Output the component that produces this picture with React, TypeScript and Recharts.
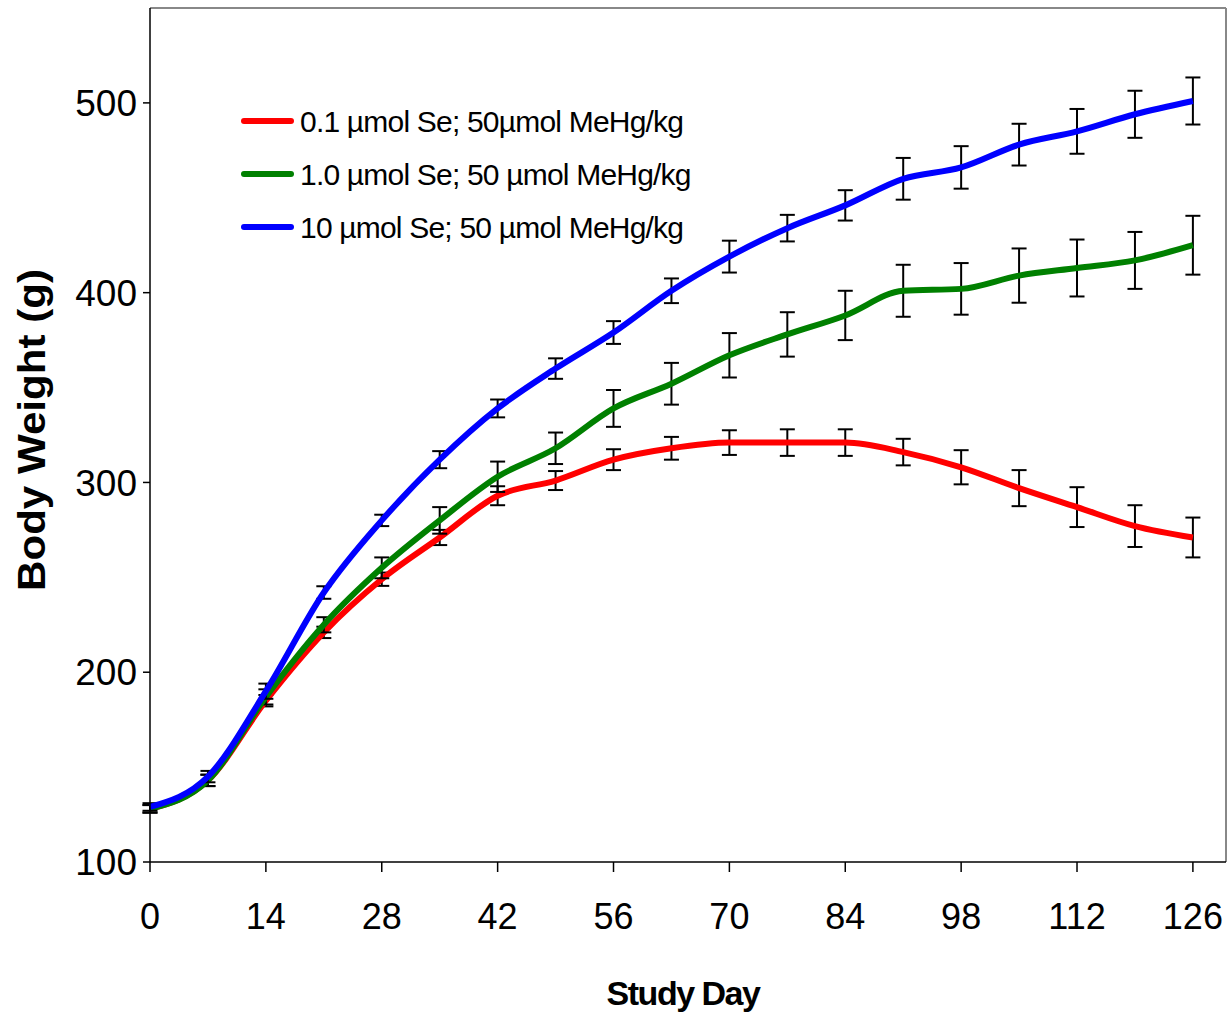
import React from 'react';
import { LineChart, Line, XAxis, YAxis, ErrorBar, ReferenceLine } from 'recharts';

// study days (weekly weigh-ins)
const days = [0, 7, 14, 21, 28, 35, 42, 49, 56, 63, 70, 77, 84, 91, 98, 105, 112, 119, 126];

// mean body weight (g) and error per group
const lowSe = [128, 143, 185, 221, 249, 271, 293, 301, 312, 318, 321, 321, 321, 316, 308, 297, 287, 277, 271];
const lowSeErr = [2, 3, 3, 3, 3.5, 4, 5, 5, 5.5, 6, 6.5, 7, 7, 7, 9, 9.5, 10.5, 11, 10.5];
const midSe = [128, 143, 187, 225, 255, 280, 303, 318, 339, 352, 367, 378, 388, 401, 402, 409, 413, 417, 425];
const midSeErr = [2, 3, 4, 4, 5.5, 7, 8, 8.3, 9.7, 11, 11.7, 11.7, 13, 13.7, 13.6, 14.3, 15, 15, 15.5];
const highSe = [129, 145, 190, 242, 280, 312, 339, 360, 379, 401, 419, 434, 446, 460, 466, 478, 485, 494, 501];
const highSeErr = [2, 3, 4, 3.3, 3, 4.5, 4.7, 5.4, 6, 6.5, 8.4, 7, 8, 11, 11.2, 11, 11.8, 12.4, 12.4];

const xTicks = [0, 14, 28, 42, 56, 70, 84, 98, 112, 126];
const yTicks = [100, 200, 300, 400, 500];

const series = [
  { key: 'low', err: 'lowErr', name: '0.1 µmol Se; 50µmol MeHg/kg', color: '#ff0000' },
  { key: 'mid', err: 'midErr', name: '1.0 µmol Se; 50 µmol MeHg/kg', color: '#008000' },
  { key: 'high', err: 'highErr', name: '10 µmol Se; 50 µmol MeHg/kg', color: '#0000ff' },
];

const data = days.map((day, i) => ({
  day,
  low: lowSe[i],
  lowErr: lowSeErr[i],
  mid: midSe[i],
  midErr: midSeErr[i],
  high: highSe[i],
  highErr: highSeErr[i],
}));

const FONT = '"Liberation Sans", Arial, sans-serif';

export default function App() {
  return (
    <div style={{ position: 'absolute', left: 0, top: 0, background: '#fff' }}>
      <LineChart
        width={1228}
        height={1015}
        data={data}
        margin={{ top: 8, right: 2, bottom: 0, left: 0 }}
        style={{ fontFamily: FONT }}
      >
        <XAxis
          dataKey="day"
          type="number"
          domain={[0, 130]}
          ticks={xTicks}
          height={153}
          tickSize={10}
          tickMargin={31}
          axisLine={{ stroke: '#000', strokeWidth: 1.5 }}
          tickLine={{ stroke: '#000', strokeWidth: 1.5 }}
          tick={{ fill: '#000', fontSize: 36, fontFamily: FONT }}
        />
        <YAxis
          type="number"
          domain={[100, 550]}
          ticks={yTicks}
          allowDataOverflow
          width={150}
          tickSize={7}
          tickMargin={6}
          axisLine={{ stroke: '#000', strokeWidth: 1.5 }}
          tickLine={{ stroke: '#000', strokeWidth: 1.5 }}
          tick={{ fill: '#000', fontSize: 37, fontFamily: FONT }}
        />
        <ReferenceLine y={550} stroke="#888" strokeWidth={2} />
        <ReferenceLine x={130} stroke="#888" strokeWidth={2} />
        {series.map((s) => (
          <Line
            key={s.key}
            type="monotone"
            dataKey={s.key}
            stroke={s.color}
            strokeWidth={6}
            dot={false}
            isAnimationActive={false}
          >
            <ErrorBar dataKey={s.err} width={7.5} stroke="#000" strokeWidth={2} />
          </Line>
        ))}
        {/* legend, inside plot area */}
        {series.map((s, i) => (
          <g key={'lg' + s.key}>
            <line x1={244} x2={291} y1={121 + i * 53} y2={121 + i * 53} stroke={s.color} strokeWidth={6} strokeLinecap="round" />
            <text x={300} y={121 + i * 53} dy="0.36em" fontSize={30} fontFamily={FONT} fill="#000" letterSpacing={-0.8}>
              {s.name}
            </text>
          </g>
        ))}
        <text x={683} y={1005} textAnchor="middle" fontSize={34} fontWeight="bold" fontFamily={FONT} fill="#000" letterSpacing={-1.5}>
          Study Day
        </text>
        <text
          x={31}
          y={430}
          transform="rotate(-90 31 430)"
          textAnchor="middle"
          dy="0.36em"
          fontSize={39}
          fontWeight="bold"
          fontFamily={FONT}
          fill="#000"
          textLength={322}
          lengthAdjust="spacingAndGlyphs"
        >
          Body Weight (g)
        </text>
      </LineChart>
    </div>
  );
}
